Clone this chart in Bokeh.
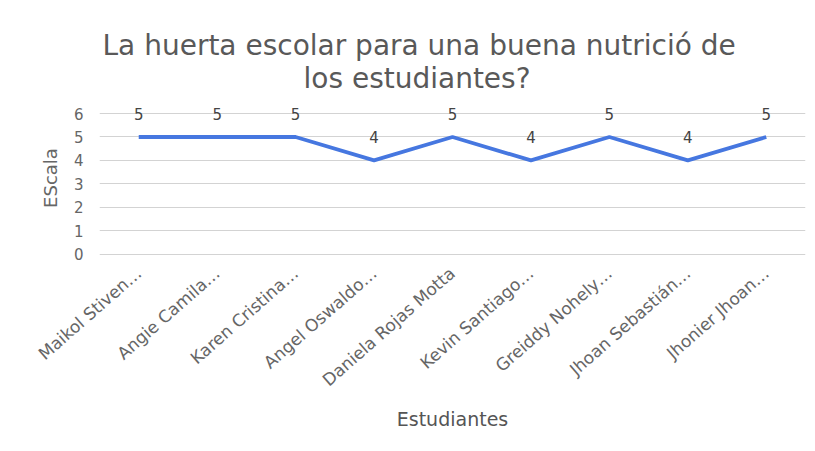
from bokeh.plotting import figure
from bokeh.models import ColumnDataSource, FixedTicker, Title
from bokeh.core.properties import value
from bokeh.embed import file_html
from bokeh.resources import INLINE

# ---- data ----
students = ["Maikol Stiven…", "Angie Camila…", "Karen Cristina…", "Angel Oswaldo…",
            "Daniela Rojas Motta", "Kevin Santiago…", "Greiddy Nohely…",
            "Jhoan Sebastián…", "Jhonier Jhoan…"]
scores = [5, 5, 5, 4, 5, 4, 5, 4, 5]
y_ticks = [0, 1, 2, 3, 4, 5, 6]
title_line1 = "La huerta escolar para una buena nutrició de"
title_line2 = "los estudiantes?"
x_title = "Estudiantes"
y_title = "EScala"

FONT = "DejaVu Sans"
LINE_COLOR = "#4677e0"
TEXT_GRAY = "#595959"

src = ColumnDataSource(dict(x=students, y=scores, lbl=[str(v) for v in scores]))

p = figure(x_range=students, y_range=(-0.1, 6.6), width=812, height=446,
           output_backend="svg", toolbar_location=None, title=None,
           min_border_left=99, min_border_right=7, min_border_top=99, min_border_bottom=190)

t2 = Title(text=title_line2, align="left", offset=204, text_font=FONT, standoff=10,
           text_font_size="28px", text_font_style="normal", text_color=TEXT_GRAY)
t1 = Title(text=title_line1, align="left", offset=3, text_font=FONT, standoff=-14,
           text_font_size="28px", text_font_style="normal", text_color=TEXT_GRAY)
p.add_layout(t2, "above")
p.add_layout(t1, "above")

p.line(x="x", y="y", source=src, line_width=3.8, line_color=LINE_COLOR)
p.text(x="x", y="y", text="lbl", source=src, y_offset=-23,
       text_align="center", text_baseline="middle", text_font=value(FONT),
       text_font_size="15px", text_color="#444444")

p.outline_line_color = None
p.background_fill_color = "white"
p.border_fill_color = "white"
p.xgrid.grid_line_color = None
p.ygrid.grid_line_color = "#d3d3d3"
p.ygrid.grid_line_width = 1

p.yaxis.ticker = FixedTicker(ticks=y_ticks)
p.yaxis.axis_line_color = None
p.yaxis.major_tick_line_color = None
p.yaxis.minor_tick_line_color = None
p.yaxis.major_tick_out = 0
p.yaxis.major_label_standoff = 16
p.yaxis.major_label_text_font = FONT
p.yaxis.major_label_text_font_size = "15px"
p.yaxis.major_label_text_color = "#666666"
p.yaxis.axis_label = y_title
p.yaxis.axis_label_text_font = FONT
p.yaxis.axis_label_text_font_size = "18px"
p.yaxis.axis_label_text_font_style = "normal"
p.yaxis.axis_label_text_color = "#666666"
p.yaxis.axis_label_standoff = 10

p.xaxis.axis_line_color = None
p.xaxis.major_tick_line_color = None
p.xaxis.major_tick_out = 0
p.xaxis.major_label_orientation = 0.72
p.xaxis.major_label_standoff = 14
p.xaxis.major_label_text_font = FONT
p.xaxis.major_label_text_font_size = "17px"
p.xaxis.major_label_text_color = "#666666"
p.xaxis.axis_label = x_title
p.xaxis.axis_label_text_font = FONT
p.xaxis.axis_label_text_font_size = "19px"
p.xaxis.axis_label_text_font_style = "normal"
p.xaxis.axis_label_text_color = "#555555"
p.xaxis.axis_label_standoff = 8

open("out.html", "w").write(file_html(p, INLINE))
